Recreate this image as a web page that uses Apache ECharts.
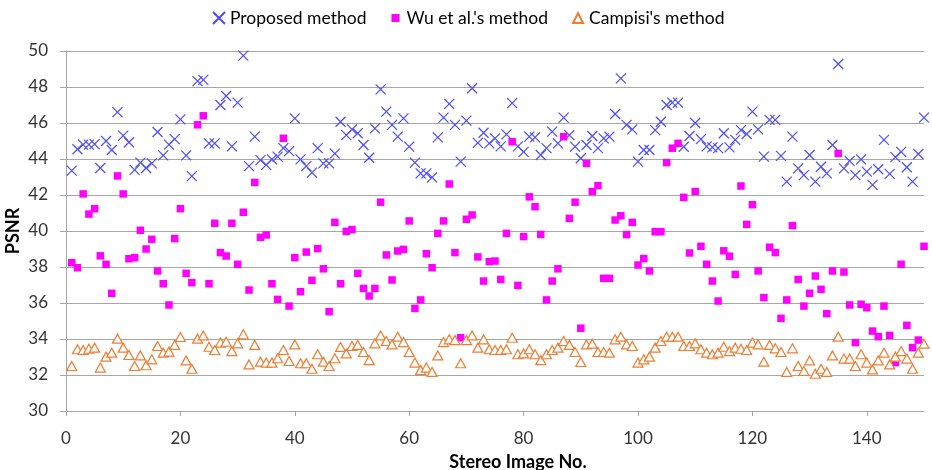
<!DOCTYPE html>
<html><head><meta charset="utf-8">
<script src="https://cdn.jsdelivr.net/npm/echarts@6/dist/echarts.min.js"></script>
<style>html,body{margin:0;padding:0;background:#fff}#c{width:932px;height:470px}</style>
</head><body><div id="c"></div>
<script>
const imageNo = [1,2,3,4,5,6,7,8,9,10,11,12,13,14,15,16,17,18,19,20,21,22,23,24,25,26,27,28,29,30,
31,32,33,34,35,36,37,38,39,40,41,42,43,44,45,46,47,48,49,50,51,52,53,54,55,56,57,58,59,60,
61,62,63,64,65,66,67,68,69,70,71,72,73,74,75,76,77,78,79,80,81,82,83,84,85,86,87,88,89,90,
91,92,93,94,95,96,97,98,99,100,101,102,103,104,105,106,107,108,109,110,111,112,113,114,115,116,117,118,119,120,
121,122,123,124,125,126,127,128,129,130,131,132,133,134,135,136,137,138,139,140,141,142,143,144,145,146,147,148,149,150];

const proposed = [43.35,44.54,44.8,44.8,44.83,43.5,45.0,44.5,46.6,45.3,
44.93,43.4,43.8,43.5,43.76,45.5,44.2,44.8,45.1,46.2,
44.2,43.05,48.33,48.4,44.87,44.87,47.0,47.5,44.7,47.13,
49.74,43.6,45.24,43.94,43.67,43.98,44.13,44.6,44.44,46.26,
43.98,43.6,43.24,44.6,43.76,43.76,44.3,46.07,45.33,45.65,
45.43,44.78,44.07,45.7,47.87,46.63,45.9,45.24,46.26,44.69,
43.8,43.2,43.2,42.98,45.2,46.3,47.06,45.9,43.85,46.13,
47.93,44.9,45.46,44.87,45.15,44.7,45.37,47.1,44.7,44.4,
45.24,45.2,44.22,44.6,45.52,44.87,46.3,45.33,44.69,44.04,
44.78,45.28,44.6,45.15,45.24,46.5,48.48,45.9,45.65,43.85,
44.5,44.5,45.6,46.07,47.0,47.13,47.13,44.68,45.28,46.0,
45.1,44.7,44.65,44.6,45.43,44.65,45.06,45.6,45.39,46.63,
45.65,44.13,46.17,46.17,44.17,42.74,45.24,43.48,43.1,44.22,
42.74,43.57,43.2,44.78,49.28,43.48,43.9,43.1,43.98,43.3,
42.56,43.43,45.06,43.17,44.1,44.4,43.54,42.74,44.28,46.3];

const wu = [38.24,37.96,42.06,40.94,41.24,38.62,38.15,36.54,43.06,42.06,
38.46,38.52,40.04,39.0,39.54,37.78,37.07,35.89,39.58,41.24,
37.65,37.13,45.9,46.4,37.07,40.43,38.8,38.61,40.43,38.15,
41.04,36.72,42.7,39.65,39.78,37.07,36.2,45.15,35.83,38.52,
36.63,38.83,37.26,39.02,37.9,35.52,40.48,37.07,39.98,40.08,
37.65,36.81,36.39,36.81,41.6,38.67,37.28,38.89,38.98,40.56,
35.7,36.17,38.74,37.96,39.87,40.56,42.61,38.8,34.07,40.65,
40.89,38.56,37.22,38.3,38.33,37.31,39.87,44.96,36.98,39.69,
41.9,41.35,39.81,36.17,37.22,37.9,45.24,40.7,41.6,34.6,
43.76,42.19,42.52,37.37,37.37,40.61,40.85,39.8,40.48,38.11,
38.47,37.78,39.96,39.96,43.8,44.6,44.87,41.87,38.78,42.19,
39.15,38.15,37.22,36.11,38.9,38.6,37.59,42.5,40.37,41.46,
37.78,36.3,39.1,38.8,35.15,36.17,40.3,37.31,35.83,36.54,
37.5,36.76,35.41,37.78,44.31,37.72,35.89,33.8,35.93,35.74,
34.44,34.13,35.83,34.2,32.69,38.15,34.76,33.52,33.94,39.15];

const campisi = [32.5,33.43,33.39,33.46,33.52,32.41,33.02,33.24,34.02,33.52,
33.11,32.5,33.09,32.54,32.87,33.61,33.24,33.3,33.67,34.11,
32.81,32.35,34.02,34.2,33.57,33.39,33.8,33.85,33.33,33.76,
34.26,32.59,33.67,32.74,32.69,32.69,32.93,33.39,32.78,33.7,
32.65,32.65,32.35,33.15,32.74,32.5,32.93,33.56,33.2,33.61,
33.67,33.28,32.83,33.76,34.2,33.89,33.7,34.13,33.83,33.28,
32.69,32.28,32.41,32.17,33.09,33.83,33.98,33.94,32.65,33.94,
34.2,33.52,33.98,33.43,33.39,33.39,33.43,34.07,33.15,33.2,
33.43,33.15,32.83,33.15,33.39,33.52,33.89,33.67,33.28,32.72,
33.7,33.74,33.28,33.28,33.24,33.98,34.13,33.7,33.61,32.69,
32.87,33.02,33.52,33.89,34.13,34.13,34.13,33.61,33.61,33.76,
33.43,33.24,33.15,33.24,33.57,33.33,33.52,33.46,33.39,33.8,
33.7,32.74,33.67,33.48,33.28,32.17,33.48,32.5,32.22,32.81,
32.07,32.35,32.17,33.09,34.13,32.91,32.91,32.5,33.15,32.69,
32.31,32.81,33.24,32.59,33.02,33.33,32.91,32.35,33.24,33.74];

const xTicks = [0,20,40,60,80,100,120,140];
const seriesNames = ['Proposed method', "Wu et al.'s method", "Campisi's method"];

const FONT = 'Lato, "Open Sans", "Liberation Sans", sans-serif';
const GRIDC = '#a6a6a6';
const pair = ys => imageNo.map((x, i) => [x, ys[i]]);

const chart = echarts.init(document.getElementById('c'), null, {renderer: 'canvas'});
chart.setOption({
  animation: false,
  backgroundColor: '#ffffff',
  grid: {left: 66, right: 8, top: 51, bottom: 59, containLabel: false, outerBoundsMode: 'none'},
  legend: {
    top: 4, left: 207, itemWidth: 12, itemHeight: 12, itemGap: 23,
    textStyle: {fontFamily: FONT, fontSize: 17.5, color: '#000'},
    data: [
      {name: seriesNames[0], icon: 'path://M0,0L10,10M10,0L0,10'},
      {name: seriesNames[1], icon: 'path://M0,0M12,12M2,2L10,2L10,10L2,10Z'},
      {name: seriesNames[2], icon: 'path://M0,0M12,12M6,1L11,11L1,11Z'}
    ]
  },
  xAxis: {
    type: 'value', min: 0, max: 150, interval: 20,
    axisLine: {show: true, lineStyle: {color: GRIDC, width: 1}},
    axisTick: {show: true, length: 5, lineStyle: {color: GRIDC}, customValues: xTicks},
    axisLabel: {customValues: xTicks, fontFamily: FONT, fontSize: 17, color: '#333', margin: 19},
    splitLine: {show: false},
    name: 'Stereo Image No.', nameLocation: 'middle', nameGap: 42,
    nameTextStyle: {fontFamily: FONT, fontWeight: 'bold', fontSize: 18, color: '#000', padding: [0, 0, 0, 46]}
  },
  yAxis: {
    type: 'value', min: 30, max: 50, interval: 2,
    axisLine: {show: true, lineStyle: {color: GRIDC, width: 1}},
    axisTick: {show: true, length: 6, lineStyle: {color: GRIDC}},
    axisLabel: {fontFamily: FONT, fontSize: 17, color: '#333', margin: 18},
    splitLine: {show: true, lineStyle: {color: GRIDC, width: 1}},
    name: 'PSNR', nameLocation: 'middle', nameGap: 44, nameMoveOverlap: false,
    nameTextStyle: {fontFamily: FONT, fontWeight: 'bold', fontSize: 18, color: '#000'}
  },
  series: [
    {
      name: seriesNames[0], type: 'scatter', data: pair(proposed),
      symbol: 'path://M0,0L10,10M10,0L0,10', symbolSize: 10,
      itemStyle: {color: '#4a4aff', borderColor: '#4a4aff', borderWidth: 1.2, opacity: 1},
      emphasis: {disabled: true}
    },
    {
      name: seriesNames[1], type: 'scatter', data: pair(wu),
      symbol: 'rect', symbolSize: 7.5,
      itemStyle: {color: '#ff00ff', opacity: 1},
      emphasis: {disabled: true}
    },
    {
      name: seriesNames[2], type: 'scatter', data: pair(campisi),
      symbol: 'triangle', symbolSize: [10, 9],
      itemStyle: {color: '#ffffff', borderColor: '#ed7d31', borderWidth: 1.2, opacity: 1},
      emphasis: {disabled: true}
    }
  ]
});
</script>
</body></html>
